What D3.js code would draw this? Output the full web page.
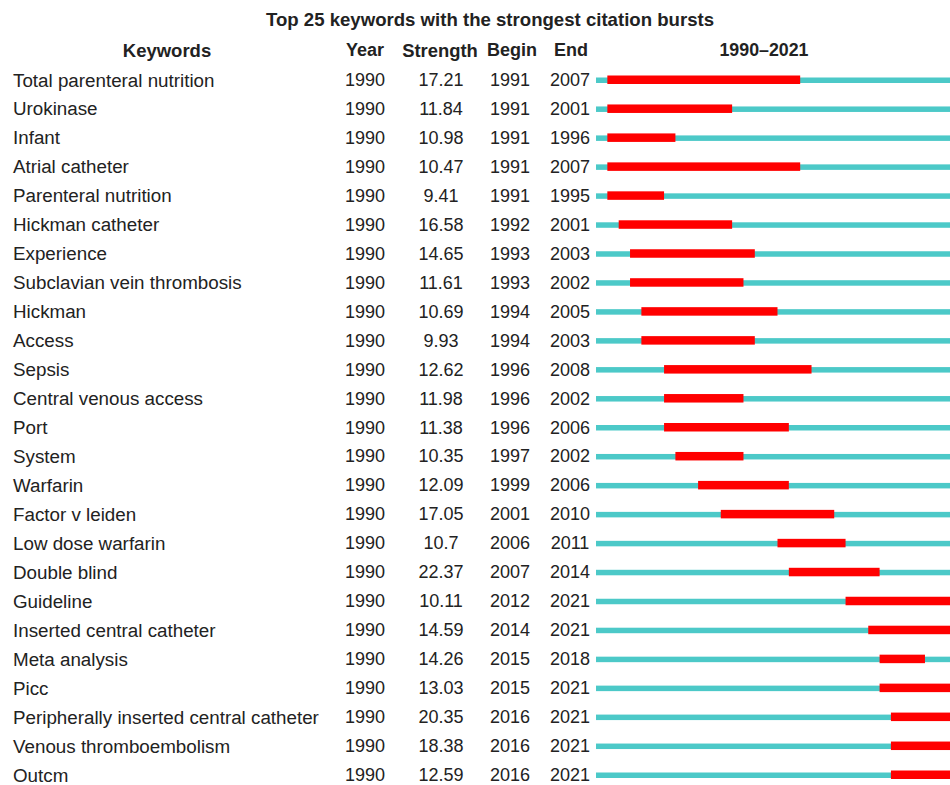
<!DOCTYPE html>
<html>
<head>
<meta charset="utf-8">
<script src="https://cdn.jsdelivr.net/npm/d3@7/dist/d3.min.js"></script>
<style>
  html, body { margin: 0; padding: 0; background: #fff; overflow: hidden; }
  svg { display: block; font-family: "Liberation Sans", Arial, Helvetica, sans-serif; }
</style>
</head>
<body>
<svg id="chart" width="950" height="785"></svg>
<script>
// Citation burst table: one row per keyword
const keywords = [
  "Total parenteral nutrition", "Urokinase", "Infant", "Atrial catheter",
  "Parenteral nutrition", "Hickman catheter", "Experience",
  "Subclavian vein thrombosis", "Hickman", "Access", "Sepsis",
  "Central venous access", "Port", "System", "Warfarin", "Factor v leiden",
  "Low dose warfarin", "Double blind", "Guideline", "Inserted central catheter",
  "Meta analysis", "Picc", "Peripherally inserted central catheter",
  "Venous thromboembolism", "Outcm"
];
const years = Array(25).fill(1990);
const strengths = [
  "17.21", "11.84", "10.98", "10.47", "9.41", "16.58", "14.65", "11.61",
  "10.69", "9.93", "12.62", "11.98", "11.38", "10.35", "12.09", "17.05",
  "10.7", "22.37", "10.11", "14.59", "14.26", "13.03", "20.35", "18.38", "12.59"
];
const begins = [
  1991, 1991, 1991, 1991, 1991, 1992, 1993, 1993, 1994, 1994, 1996, 1996,
  1996, 1997, 1999, 2001, 2006, 2007, 2012, 2014, 2015, 2015, 2016, 2016, 2016
];
const ends = [
  2007, 2001, 1996, 2007, 1995, 2001, 2003, 2002, 2005, 2003, 2008, 2002,
  2006, 2002, 2006, 2010, 2011, 2014, 2021, 2021, 2018, 2021, 2021, 2021, 2021
];
const timeSpan = [1990, 2021];
const headers = ["Keywords", "Year", "Strength", "Begin", "End"];
const title = "Top 25 keywords with the strongest citation bursts";

const rows = keywords.map((k, i) => ({
  keyword: k, year: years[i], strength: strengths[i], begin: begins[i], end: ends[i]
}));

const svg = d3.select("#chart");
const textColor = "#222";

// year axis for the burst strips: each year occupies one slot
const x = d3.scaleLinear().domain([timeSpan[0], timeSpan[1] + 1]).range([596, 959]);
// row positions
const y = d3.scalePoint().domain(d3.range(rows.length)).range([80, 775]);

// title
svg.append("text")
  .attr("x", 490).attr("y", 19)
  .attr("text-anchor", "middle").attr("dominant-baseline", "central")
  .attr("font-size", 18.6).attr("font-weight", "bold").attr("fill", textColor)
  .text(title);

// column headers
const headerY = 50;
const colCenters = { Year: 365, Strength: 440, Begin: 512, End: 571 };
const headerSizes = { Keywords: 18.5, Year: 18, Strength: 18.4, Begin: 18, End: 18 };
svg.append("text")
  .attr("x", 167).attr("y", headerY)
  .attr("text-anchor", "middle").attr("dominant-baseline", "central")
  .attr("font-size", headerSizes.Keywords).attr("font-weight", "bold").attr("fill", textColor)
  .text(headers[0]);
headers.slice(1).forEach(h => {
  svg.append("text")
    .attr("x", colCenters[h]).attr("y", headerY)
    .attr("text-anchor", "middle").attr("dominant-baseline", "central")
    .attr("font-size", headerSizes[h]).attr("font-weight", "bold").attr("fill", textColor)
    .text(h);
});
svg.append("text")
  .attr("x", 764).attr("y", headerY)
  .attr("text-anchor", "middle").attr("dominant-baseline", "central")
  .attr("font-size", 17.8).attr("font-weight", "bold").attr("fill", textColor)
  .text(`${timeSpan[0]}\u2013${timeSpan[1]}`);

const g = svg.selectAll("g.row").data(rows).join("g")
  .attr("class", "row")
  .attr("transform", (d, i) => `translate(0,${y(i)})`);

const cell = (sel, xPos, anchor, size, fn) => sel.append("text")
  .attr("x", xPos).attr("y", 0)
  .attr("text-anchor", anchor).attr("dominant-baseline", "central")
  .attr("font-size", size).attr("fill", textColor)
  .text(fn);

cell(g, 13, "start", 18.8, d => d.keyword);
cell(g, colCenters.Year, "middle", 18, d => d.year);
cell(g, 441, "middle", 18, d => d.strength);
cell(g, 510, "middle", 18, d => d.begin);
cell(g, 570, "middle", 18, d => d.end);

// full time span strip
g.append("rect")
  .attr("x", x(timeSpan[0]))
  .attr("y", -2.5)
  .attr("width", x(timeSpan[1] + 1) - x(timeSpan[0]))
  .attr("height", 5.5)
  .attr("fill", "#4CC9C8");

// burst period
g.append("rect")
  .attr("x", d => x(d.begin))
  .attr("y", -4.5)
  .attr("width", d => x(d.end + 1) - x(d.begin))
  .attr("height", 8.5)
  .attr("fill", "#FF0000");
</script>
</body>
</html>
